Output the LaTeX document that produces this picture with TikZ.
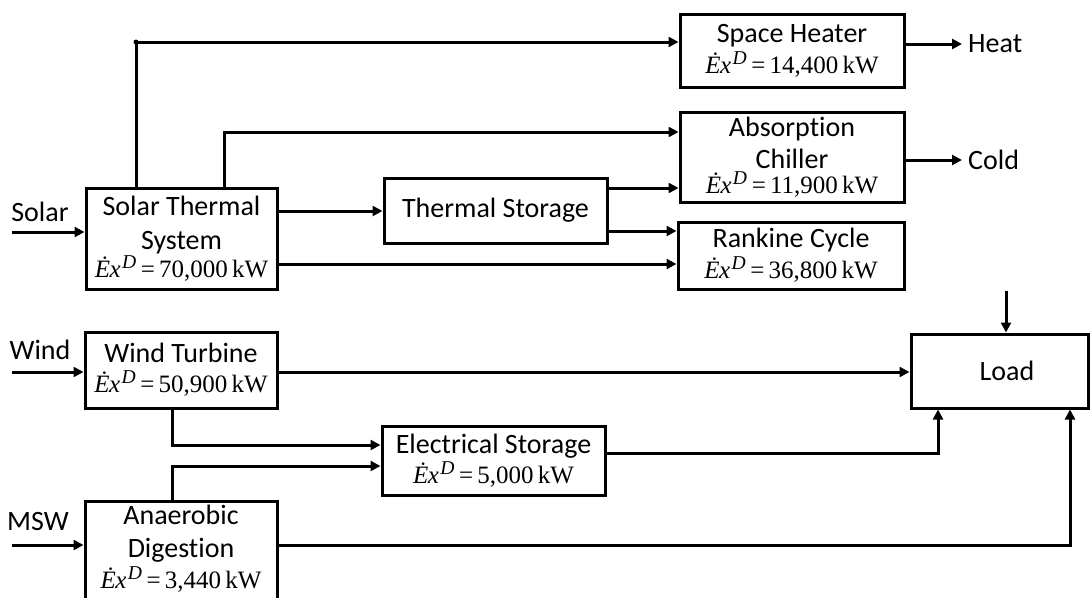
\documentclass[tikz,border=0pt]{standalone}
\usepackage{fontspec}
\setmainfont[Ligatures=CommonOff]{Carlito}
\newfontfamily\tms{Liberation Serif}
\usetikzlibrary{arrows.meta}
\newcommand\exd[1]{{\fontsize{25}{30}\selectfont\tms\itshape Ė\kern-0.02em x\kern0.05em}\textsuperscript{\tms\itshape D}{\fontsize{25}{30}\selectfont\tms\,=\,#1\,kW}}
\tikzset{
  blk/.style={draw, line width=3pt, rectangle, inner sep=0pt, align=center,
    font=\fontsize{28}{33}\selectfont},
  lbl/.style={font=\fontsize{28}{33}\selectfont, inner sep=0pt},
  conn/.style={line width=3pt},
  arr/.style={line width=3pt, -{Triangle[length=10pt,width=10pt]}},
}
\begin{document}
\begin{tikzpicture}[x=1pt,y=-1pt]
\useasboundingbox (0,0) rectangle (1091,597);
% boxes
\node[blk, minimum width=191pt, minimum height=101pt] (sts) at (181.5,238.5)
  {Solar Thermal\\[1pt] System\\[-5pt] \exd{70,000}};
\node[blk, minimum width=223pt, minimum height=65pt] (ts) at (495.5,210.5) {Thermal Storage};
\node[blk, minimum width=224pt, minimum height=73pt] (sh) at (792,50.5)
  {Space Heater\\[-2pt] \exd{14,400}};
\node[blk, minimum width=224pt, minimum height=90pt] (ac) at (792,157)
  {Absorption\\[-1pt] Chiller\\[-8pt] \exd{11,900}};
\node[blk, minimum width=226pt, minimum height=67pt] (rc) at (791,255.5)
  {Rankine Cycle\\[-2pt] \exd{36,800}};
\node[blk, minimum width=177pt, minimum height=74pt] (load) at (999.5,371) {};
\node[lbl] (loadt) at (1007,371) {Load};
\node[blk, minimum width=192pt, minimum height=76pt] (wt) at (181,370)
  {Wind Turbine\\[-3pt] \exd{50,900}};
\node[blk, minimum width=223pt, minimum height=69pt] (es) at (493.5,460.5)
  {Electrical Storage\\[-3pt] \exd{5,000}};
\node[blk, minimum width=192pt, minimum height=100pt, anchor=north] (ad) at (181,500)
  {};
\node[lbl, align=center] (adt) at (181,549)
  {Anaerobic\\[0pt] Digestion\\[-2pt] \exd{3,440}};
% outside labels
\node[lbl] (solar) at (40,212) {Solar};
\node[lbl] (wind) at (40,350) {Wind};
\node[lbl] (msw) at (38,522) {MSW};
\node[lbl, anchor=west] (heat) at (968,44) {Heat};
\node[lbl, anchor=west] (cold) at (968,160) {Cold};
% coordinates
\coordinate (sin) at (12,232);
\coordinate (win) at (12,372);
\coordinate (min) at (12,545);
\coordinate (c1) at (136,42);
\coordinate (c2) at (224,132);
\coordinate (c3) at (0,211);
\coordinate (c4) at (0,264);
\coordinate (c5) at (0,188);
\coordinate (c6) at (0,231);
\coordinate (c7) at (962,44);
\coordinate (c8) at (962,160);
\coordinate (c9) at (1006,0);
\coordinate (c10) at (0,372);
\coordinate (c11) at (172,445);
\coordinate (c12) at (172,466);
\coordinate (c13) at (938,453);
\coordinate (c14) at (1070,545);
% inputs
\draw[arr] (sin) -- (sts.west |- sin);
\draw[arr] (win) -- (wt.west |- win);
\draw[arr] (min) -- (ad.west |- min);
% solar thermal
\draw[arr] (sts.north -| c1) -- (c1) -- (c1 -| sh.west);
\fill (c1) circle (2.5pt);
\draw[arr] (sts.north -| c2) -- (c2) -- (c2 -| ac.west);
\draw[arr] (sts.east |- c3) -- (ts.west |- c3);
\draw[arr] (sts.east |- c4) -- (rc.west |- c4);
\draw[arr] (ts.east |- c5) -- (ac.west |- c5);
\draw[arr] (ts.east |- c6) -- (rc.west |- c6);
% outputs
\draw[arr] (sh.east |- c7) -- (c7);
\draw[arr] (ac.east |- c8) -- (c8);
\draw[arr] (rc.south -| c9) -- (load.north -| c9);
\draw[arr] (wt.east |- c10) -- (load.west |- c10);
\draw[arr] (wt.south -| c11) -- (c11) -- (c11 -| es.west);
\draw[arr] (ad.north -| c12) -- (c12) -- (c12 -| es.west);
\draw[arr] (es.east |- c13) -- (c13) -- (load.south -| c13);
\draw[arr] (ad.east |- c14) -- (c14) -- (load.south -| c14);
\end{tikzpicture}
\end{document}
